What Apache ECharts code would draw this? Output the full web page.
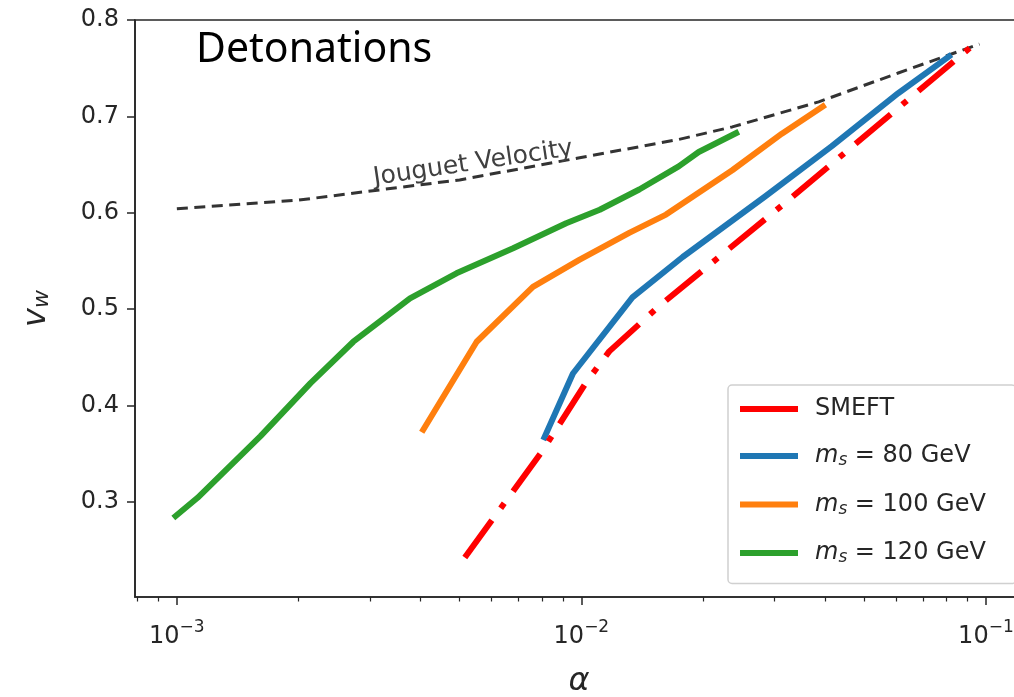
<!DOCTYPE html>
<html>
<head>
<meta charset="utf-8">
<title>Detonations</title>
<script src="https://cdn.jsdelivr.net/npm/echarts@6/dist/echarts.min.js"></script>
<style>
  html, body { margin: 0; padding: 0; background: #fff; }
  #chart { width: 1014px; height: 697px; }
</style>
</head>
<body>
<div id="chart"></div>
<script>
// values: alpha (log scale) and wall velocity v_w
const smeftAlpha = [0.00515, 0.00799, 0.01028, 0.01172, 0.01556, 0.0325, 0.0918]
const smeftVw = [0.242, 0.352, 0.424, 0.456, 0.503, 0.613, 0.772]

const ms80Alpha = [0.00805, 0.00953, 0.01337, 0.0178, 0.0285, 0.0416, 0.0607, 0.0822]
const ms80Vw = [0.364, 0.433, 0.512, 0.554, 0.617, 0.669, 0.724, 0.764]

const ms100Alpha = [0.00403, 0.00551, 0.00759, 0.00988, 0.01313, 0.01619, 0.0236, 0.0313, 0.0401]
const ms100Vw = [0.372, 0.466, 0.523, 0.551, 0.579, 0.598, 0.644, 0.682, 0.712]

const ms120Alpha = [0.00098, 0.001125, 0.00161, 0.00214, 0.00273, 0.00377, 0.00491, 0.00678, 0.00917, 0.0111, 0.0139, 0.0174, 0.0195, 0.0245]
const ms120Vw = [0.283, 0.304, 0.368, 0.423, 0.466, 0.511, 0.537, 0.563, 0.589, 0.603, 0.624, 0.648, 0.663, 0.684]

const jouguetAlpha = [0.001, 0.002, 0.00295, 0.005, 0.0099, 0.0174, 0.0236, 0.0386, 0.0607, 0.0964]
const jouguetVw = [0.604, 0.613, 0.622, 0.634, 0.657, 0.676, 0.689, 0.715, 0.745, 0.775]

const xMajorTicks = [0.001, 0.01, 0.1]
const xMinorTicks = [0.0008, 0.0009,
  0.002, 0.003, 0.004, 0.005, 0.006, 0.007, 0.008, 0.009,
  0.02, 0.03, 0.04, 0.05, 0.06, 0.07, 0.08, 0.09]
const yTicks = [0.3, 0.4, 0.5, 0.6, 0.7, 0.8]

const legendLabels = {
  'SMEFT': 'SMEFT',
  'ms80': '{m|m}{s|s}{t| = 80 GeV}',
  'ms100': '{m|m}{s|s}{t| = 100 GeV}',
  'ms120': '{m|m}{s|s}{t| = 120 GeV}'
}

const zip = (xs, ys) => xs.map((x, i) => [x, ys[i]])

const font = 'DejaVu Sans'
const ink = '#262626'

const chart = echarts.init(document.getElementById('chart'))

const xBase = {
  type: 'log',
  logBase: 10,
  min: 0.000788,
  max: 0.1235,
  gridIndex: 0,
  position: 'bottom',
  splitLine: { show: false },
  minorTick: { show: false },
  minorSplitLine: { show: false }
}

chart.setOption({
  animation: false,
  backgroundColor: '#fff',
  title: {
    text: 'Detonations',
    left: 196,
    top: 30,
    padding: 0,
    textStyle: { fontFamily: 'Noto Sans', fontSize: 41, fontWeight: 'normal', color: '#000' }
  },
  grid: {
    left: 135,
    top: 20,
    right: -9,
    bottom: 100,
    outerBoundsMode: 'none',
    containLabel: false,
    show: true,
    borderColor: ink,
    borderWidth: 1.6,
    backgroundColor: 'transparent'
  },
  legend: {
    orient: 'vertical',
    left: 728,
    top: 385,
    padding: [12, 30, 17, 12],
    itemGap: 23,
    itemWidth: 58,
    itemHeight: 6,
    icon: 'rect',
    backgroundColor: '#fff',
    borderColor: '#d0d0d0',
    borderWidth: 1.5,
    borderRadius: 4,
    data: ['SMEFT', 'ms80', 'ms100', 'ms120'],
    formatter: name => legendLabels[name],
    textStyle: {
      fontFamily: font,
      fontSize: 24,
      color: ink,
      padding: [0, 0, 0, 12],
      rich: {
        m: { fontFamily: font, fontSize: 24, fontStyle: 'italic', color: ink },
        s: { fontFamily: font, fontSize: 17, fontStyle: 'italic', color: ink, verticalAlign: 'bottom', padding: [10, 0, 0, 0] },
        t: { fontFamily: font, fontSize: 24, color: ink }
      }
    }
  },
  xAxis: [
    Object.assign({}, xBase, {
      name: 'α',
      nameLocation: 'middle',
      nameGap: 69,
      nameTextStyle: { fontFamily: font, fontSize: 32, fontStyle: 'italic', color: ink },
      axisLine: { show: true, lineStyle: { color: ink, width: 1.6 } },
      axisTick: { show: true, customValues: xMajorTicks, length: 8, lineStyle: { color: ink, width: 1.5 } },
      axisLabel: {
        show: true,
        customValues: xMajorTicks,
        margin: 22,
        formatter: v => '{b|10}{s|−' + (-Math.round(Math.log10(v))) + '}',
        rich: {
          b: { fontFamily: font, fontSize: 24, color: ink, verticalAlign: 'bottom', padding: [6, 0, 0, 0] },
          s: { fontFamily: font, fontSize: 17, color: ink, verticalAlign: 'top' }
        }
      }
    }),
    Object.assign({}, xBase, {
      axisLine: { show: false },
      axisTick: { show: true, customValues: xMinorTicks, length: 4.5, lineStyle: { color: ink, width: 1.2 } },
      axisLabel: { show: false }
    })
  ],
  yAxis: {
    type: 'value',
    min: 0.201,
    max: 0.8,
    name: '{v|v}{w|w}',
    nameLocation: 'middle',
    nameGap: 82,
    nameRotate: 90,
    nameTextStyle: {
      rich: {
        v: { fontFamily: font, fontSize: 32, fontStyle: 'italic', color: ink, verticalAlign: 'bottom' },
        w: { fontFamily: font, fontSize: 22, fontStyle: 'italic', color: ink, verticalAlign: 'bottom', padding: [10, 0, 0, 0] }
      }
    },
    splitLine: { show: false },
    axisLine: { show: true, lineStyle: { color: ink, width: 1.6 } },
    axisTick: { show: true, customValues: yTicks, length: 8, lineStyle: { color: ink, width: 1.5 } },
    axisLabel: {
      customValues: yTicks,
      margin: 16,
      fontFamily: font,
      fontSize: 24,
      color: ink,
      formatter: v => v.toFixed(1)
    }
  },
  series: [
    {
      name: 'Jouguet',
      type: 'line',
      data: zip(jouguetAlpha, jouguetVw),
      symbol: 'none',
      smooth: false,
      z: 1,
      lineStyle: { color: '#333', width: 3, type: [11, 6.5] },
      markPoint: {
        symbol: 'circle',
        symbolSize: 0,
        data: [{
          coord: [0.0054, 0.651],
          label: {
            show: true,
            formatter: 'Jouguet Velocity',
            position: 'inside',
            rotate: 8.5,
            fontFamily: font,
            fontSize: 25,
            color: '#404040'
          }
        }]
      }
    },
    {
      name: 'ms120',
      type: 'line',
      data: zip(ms120Alpha, ms120Vw),
      symbol: 'none',
      color: '#2ca02c',
      lineStyle: { width: 6, join: 'round', cap: 'butt' }
    },
    {
      name: 'ms100',
      type: 'line',
      data: zip(ms100Alpha, ms100Vw),
      symbol: 'none',
      color: '#ff7f0e',
      lineStyle: { width: 6, join: 'round', cap: 'butt' }
    },
    {
      name: 'ms80',
      type: 'line',
      data: zip(ms80Alpha, ms80Vw),
      symbol: 'none',
      color: '#1f77b4',
      lineStyle: { width: 6, join: 'round', cap: 'butt' }
    },
    {
      name: 'SMEFT',
      type: 'line',
      data: zip(smeftAlpha, smeftVw),
      symbol: 'none',
      color: '#ff0000',
      lineStyle: { width: 6, type: [46, 15, 6, 15], join: 'round', cap: 'butt' }
    }
  ]
})

window.addEventListener('resize', () => chart && chart.resize())
</script>
</body>
</html>
